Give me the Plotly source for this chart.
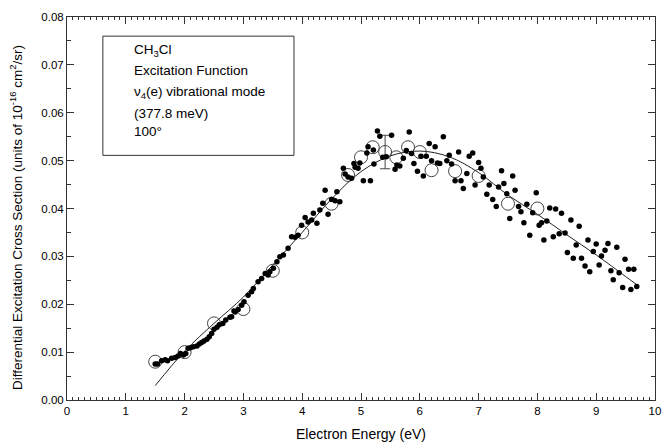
import plotly.graph_objects as go

# Measured points (small filled dots)
dot_energy = [1.50, 1.54, 1.61, 1.67, 1.71, 1.78, 1.84, 1.89, 1.93, 1.98, 2.02, 2.06, 2.10, 2.15, 2.21,
              2.25, 2.29, 2.33, 2.38, 2.42, 2.46, 2.50, 2.55, 2.59, 2.65, 2.70, 2.77, 2.80, 2.84, 2.86,
              2.91, 2.97, 3.01, 3.08, 3.14, 3.17, 3.25, 3.31, 3.37, 3.42, 3.45, 3.51, 3.57, 3.62, 3.68,
              3.76, 3.82, 3.88, 3.93, 3.99, 4.05, 4.10, 4.16, 4.19, 4.25, 4.30, 4.35, 4.39, 4.44, 4.50,
              4.56, 4.59, 4.64, 4.70, 4.73, 4.78, 4.84, 4.88, 4.90, 4.95, 4.98, 5.04, 5.10, 5.12, 5.16,
              5.21, 5.22, 5.28, 5.32, 5.37, 5.43, 5.52, 5.58, 5.61,
              5.66, 5.72, 5.77, 5.82, 5.86, 5.90, 5.96, 6.02, 6.06, 6.11, 6.16, 6.20, 6.26, 6.30, 6.34,
              6.40, 6.46, 6.50, 6.54, 6.60, 6.66, 6.70, 6.74, 6.80, 6.84, 6.90, 6.94, 7.00, 7.04, 7.08,
              7.14, 7.18, 7.24, 7.30, 7.34, 7.39, 7.43, 7.48, 7.53, 7.58, 7.62, 7.68, 7.72, 7.77, 7.82,
              7.87, 7.92, 7.98, 8.03, 8.07, 8.11, 8.16, 8.21, 8.27, 8.31, 8.37, 8.41, 8.47, 8.51, 8.57,
              8.61, 8.66, 8.71, 8.75, 8.81, 8.86, 8.89, 8.95, 9.00, 9.05, 9.09, 9.15, 9.20, 9.25, 9.29,
              9.35, 9.39, 9.45, 9.49, 9.55, 9.59, 9.64, 9.69]
dot_sigma = [0.0075, 0.0075, 0.0082, 0.0084, 0.0082, 0.0087, 0.0089, 0.0092, 0.0097, 0.0094, 0.0097, 0.0108, 0.0109, 0.0111, 0.0113,
             0.0117, 0.0120, 0.0123, 0.0127, 0.0132, 0.0139, 0.0148, 0.0152, 0.0157, 0.0160, 0.0167, 0.0173, 0.0174, 0.0186, 0.0184,
             0.0189, 0.0198, 0.0205, 0.0219, 0.0226, 0.0233, 0.0247, 0.0254, 0.0264, 0.0261, 0.0268, 0.0275, 0.0289, 0.0299, 0.0303,
             0.0317, 0.0341, 0.0340, 0.0344, 0.0365, 0.0381, 0.0372, 0.0376, 0.0390, 0.0369, 0.0397, 0.0411, 0.0438, 0.0388, 0.0419,
             0.0416, 0.0435, 0.0414, 0.0484, 0.0472, 0.0466, 0.0463, 0.0494, 0.0486, 0.0484, 0.0495, 0.0458, 0.0516, 0.0529, 0.0458,
             0.0522, 0.0493, 0.0562, 0.0551, 0.0507, 0.0508, 0.0553, 0.0482, 0.0491,
             0.0489, 0.0505, 0.0521, 0.0560, 0.0515, 0.0494, 0.0478, 0.0509, 0.0468, 0.0509, 0.0536, 0.0500, 0.0529, 0.0495, 0.0494,
             0.0550, 0.0500, 0.0511, 0.0493, 0.0458, 0.0518, 0.0458, 0.0442, 0.0473, 0.0509, 0.0516, 0.0449, 0.0496, 0.0484, 0.0466,
             0.0430, 0.0449, 0.0419, 0.0404, 0.0445, 0.0479, 0.0452, 0.0431, 0.0379, 0.0468, 0.0438, 0.0404, 0.0393, 0.0370, 0.0409,
             0.0344, 0.0391, 0.0433, 0.0365, 0.0370, 0.0334, 0.0374, 0.0401, 0.0341, 0.0399, 0.0347, 0.0390, 0.0349, 0.0308, 0.0376,
             0.0296, 0.0324, 0.0363, 0.0296, 0.0280, 0.0334, 0.0268, 0.0310, 0.0326, 0.0282, 0.0301, 0.0313, 0.0327, 0.0270, 0.0251,
             0.0319, 0.0266, 0.0235, 0.0294, 0.0273, 0.0231, 0.0273, 0.0237]

# Open circles
circle_energy = [1.5, 2.0, 2.5, 3.0, 3.5, 4.0, 4.5, 4.78, 5.0, 5.2, 5.6, 5.8, 6.0, 6.2, 6.6, 7.0, 7.5, 8.0]
circle_sigma = [0.0080, 0.0100, 0.0160, 0.0190, 0.0270, 0.0350, 0.0410, 0.0470, 0.0507, 0.0528, 0.0507, 0.0528, 0.0518, 0.0480, 0.0478, 0.0468, 0.0410, 0.0400]

# Circle with error bar
err_energy = [5.41]
err_sigma = [0.0518]
err_size = [0.0035]

# Fitted curve
fit_energy = [1.5, 2.0, 2.5, 3.0, 3.5, 4.0, 4.5, 5.0, 5.5, 6.0, 6.5, 7.0, 7.5, 8.0, 8.5, 9.0, 9.5, 9.7]
fit_sigma = [0.0030, 0.0102, 0.0160, 0.0215, 0.0282, 0.0350, 0.0420, 0.0477, 0.0510, 0.0520, 0.0508, 0.0475, 0.0428, 0.0388, 0.0345, 0.0303, 0.0258, 0.0240]

x_ticks = [0, 1, 2, 3, 4, 5, 6, 7, 8, 9, 10]
y_ticks = [0.00, 0.01, 0.02, 0.03, 0.04, 0.05, 0.06, 0.07, 0.08]

legend_lines = ["CH<sub>3</sub>Cl", "Excitation Function", "ν<sub>4</sub>(e) vibrational mode",
                "(377.8 meV)", "100°"]
legend_y = [0.0731, 0.0689, 0.0643, 0.0599, 0.0561]

y_title = "Differential Excitation Cross Section (units of 10<sup>-16</sup> cm<sup>2</sup>/sr)"

FONT = "Liberation Sans, Arial, sans-serif"

fig = go.Figure()
fig.add_trace(go.Scatter(x=fit_energy, y=fit_sigma, mode="lines",
                         line=dict(color="#222", width=1, shape="spline", smoothing=1.0),
                         hoverinfo="skip"))
fig.add_trace(go.Scatter(x=circle_energy, y=circle_sigma, mode="markers",
                         marker=dict(symbol="circle-open", size=13, color="#444", line=dict(width=1))))
fig.add_trace(go.Scatter(x=err_energy, y=err_sigma, mode="markers",
                         marker=dict(symbol="circle-open", size=13, color="#444", line=dict(width=1)),
                         error_y=dict(type="data", array=err_size, visible=True, color="#444",
                                      thickness=1, width=5)))
fig.add_trace(go.Scatter(x=dot_energy, y=dot_sigma, mode="markers",
                         marker=dict(symbol="circle", size=5.5, color="black")))

fig.add_shape(type="rect", xref="x", yref="y", x0=0.61, x1=3.86, y0=0.0511, y1=0.0760,
              line=dict(color="#333", width=1), fillcolor="white", layer="below")
for txt, yy in zip(legend_lines, legend_y):
    fig.add_annotation(x=1.1, y=yy, xref="x", yref="y", text=txt, showarrow=False,
                       xanchor="left", yanchor="middle",
                       font=dict(family=FONT, size=13.5, color="black"))

# y-axis title as rotated annotation (positioned like the reference)
fig.add_annotation(x=0, xref="paper", y=0.038, yref="y", xshift=-51, text=y_title,
                   textangle=-90, showarrow=False, xanchor="center", yanchor="middle",
                   font=dict(family=FONT, size=13.5, color="black"))

axis_common = dict(showline=True, linecolor="#333", linewidth=1, mirror="ticks",
                   ticks="inside", tickcolor="#333", showgrid=False, zeroline=False,
                   automargin=False,
                   tickfont=dict(family=FONT, size=11.5, color="black"))

fig.update_xaxes(range=[0, 10], tickvals=x_ticks, ticklen=7,
                 minor=dict(dtick=0.1, ticks="inside", ticklen=3, tickcolor="#333", showgrid=False),
                 title=dict(text="Electron Energy (eV)", font=dict(family=FONT, size=14, color="black"),
                            standoff=13),
                 **axis_common)
fig.update_yaxes(range=[0, 0.08], tickvals=y_ticks, tickformat=".2f", ticklen=7,
                 minor=dict(dtick=0.005, ticks="inside", ticklen=4, tickcolor="#333", showgrid=False),
                 **axis_common)

fig.update_layout(width=662, height=445, margin=dict(l=67, r=7, t=17, b=45),
                  plot_bgcolor="white", paper_bgcolor="white", showlegend=False,
                  font=dict(family=FONT))

fig.write_html("out.html")
